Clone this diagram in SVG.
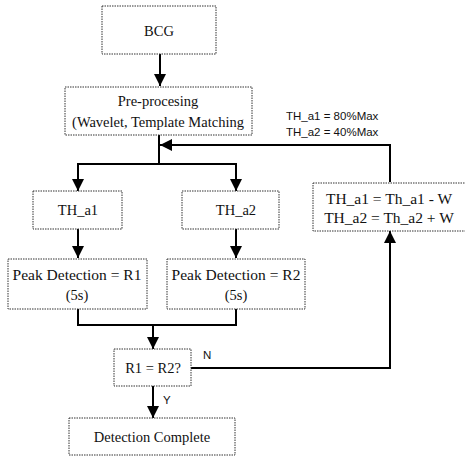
<svg xmlns="http://www.w3.org/2000/svg" width="465" height="457" viewBox="0 0 465 457">
<style>
.box{fill:#fff;stroke:#333;stroke-width:1;stroke-dasharray:1.5,1}
.t{font-family:"Liberation Serif","Times New Roman",serif;font-size:14.5px;fill:#111;text-anchor:middle}
.w{font-size:15.5px}
.s{font-family:"Liberation Sans",Arial,sans-serif;font-size:11.5px;fill:#111}
.c{fill:none;stroke:#000;stroke-width:2}
</style>
<defs>
<marker id="ah" viewBox="0 0 12 12" refX="12" refY="6" markerWidth="12" markerHeight="12" markerUnits="userSpaceOnUse" orient="auto">
<path d="M0,0 L12,6 L0,12 Z" fill="#000"/>
</marker>
</defs>
<rect width="465" height="457" fill="#fff"/>
<g id="connectors">
<line class="c" x1="160" y1="54" x2="160" y2="86" marker-end="url(#ah)"/>
<polyline class="c" points="159,135 159,164"/>
<polyline class="c" points="78,164 236,164 236,191" marker-end="url(#ah)"/>
<line class="c" x1="78" y1="163" x2="78" y2="191" marker-end="url(#ah)"/>
<line class="c" x1="78" y1="229" x2="78" y2="258" marker-end="url(#ah)"/>
<line class="c" x1="236" y1="229" x2="236" y2="258" marker-end="url(#ah)"/>
<polyline class="c" points="78,309 78,325 236,325 236,309"/>
<line class="c" x1="153" y1="325" x2="153" y2="349" marker-end="url(#ah)"/>
<line class="c" x1="153" y1="386" x2="153" y2="418" marker-end="url(#ah)"/>
<polyline class="c" points="191,368 390,368 390,231" marker-end="url(#ah)"/>
<polyline class="c" points="390,182 390,145 160,145" marker-end="url(#ah)"/>
</g>
<g id="bcg"><rect class="box" x="102" y="6" width="114" height="48"/><text class="t" x="159" y="36">BCG</text></g>
<g id="preproc"><rect class="box" x="65" y="87" width="187" height="48"/><text class="t" x="158" y="106">Pre-procesing</text><text class="t" x="158" y="127">(Wavelet, Template Matching</text></g>
<g id="th_a1"><rect class="box" x="33" y="191" width="89" height="38"/><text class="t" x="78" y="215">TH_a1</text></g>
<g id="th_a2"><rect class="box" x="182" y="191" width="97" height="38"/><text class="t" x="236" y="215">TH_a2</text></g>
<g id="update"><rect class="box" x="313" y="183" width="160" height="48"/><text class="t w" x="389" y="204">TH_a1 = Th_a1 - W</text><text class="t w" x="389" y="223">TH_a2 = Th_a2 + W</text></g>
<g id="peak1"><rect class="box" x="8" y="259" width="139" height="50"/><text class="t w" x="77" y="280">Peak Detection = R1</text><text class="t" x="77" y="300">(5s)</text></g>
<g id="peak2"><rect class="box" x="167" y="259" width="138" height="50"/><text class="t w" x="236" y="280">Peak Detection = R2</text><text class="t" x="236" y="300">(5s)</text></g>
<g id="compare"><rect class="box" x="114" y="349" width="77" height="37"/><text class="t" x="153" y="373">R1 = R2?</text></g>
<g id="done"><rect class="box" x="69" y="418" width="166" height="37"/><text class="t" x="152" y="442">Detection Complete</text></g>
<g id="labels">
<text class="s" x="286" y="120">TH_a1 = 80%Max</text>
<text class="s" x="286" y="136">TH_a2 = 40%Max</text>
<text class="s" x="203" y="359">N</text>
<text class="s" x="163" y="404">Y</text>
</g>
</svg>
